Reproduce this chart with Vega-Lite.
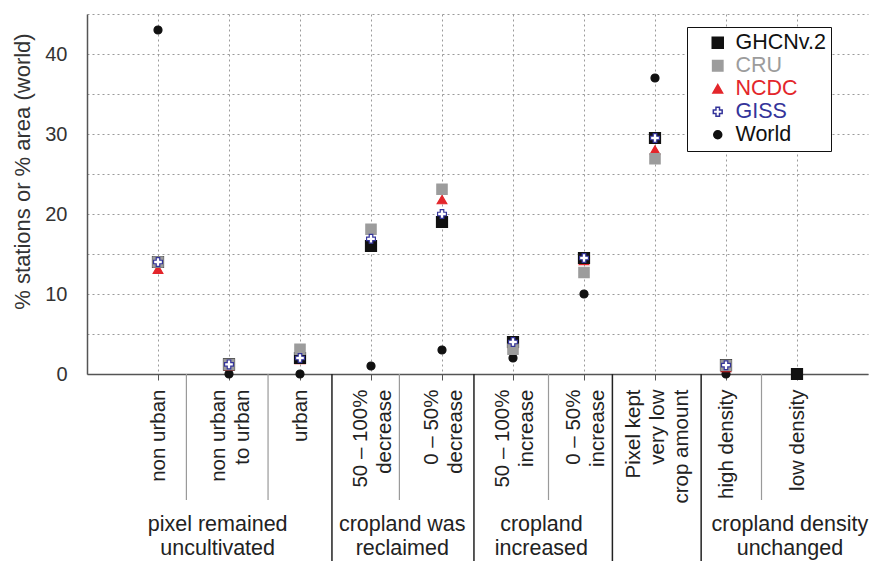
{
  "$schema": "https://vega.github.io/schema/vega-lite/v6.json",
  "padding": {"left": 11, "top": 13, "right": 12, "bottom": 0},
  "bounds": "flush",
  "spacing": 0,
  "config": {
    "view": {"stroke": null},
    "font": "Liberation Sans",
    "axis": {"labelFont": "Liberation Sans", "titleFont": "Liberation Sans"},
    "legend": {"labelFont": "Liberation Sans"}
  },
  "datasets": {
    "points": [
      {"category": "non urban", "series": "World", "percent": 43},
      {"category": "non urban|to urban", "series": "World", "percent": 0},
      {"category": "urban", "series": "World", "percent": 0},
      {"category": "50 – 100%|decrease", "series": "World", "percent": 1},
      {"category": "0 – 50%|decrease", "series": "World", "percent": 3},
      {"category": "50 – 100%|increase", "series": "World", "percent": 2},
      {"category": "0 – 50%|increase", "series": "World", "percent": 10},
      {"category": "Pixel kept|very low|crop amount", "series": "World", "percent": 37},
      {"category": "high density", "series": "World", "percent": 0},
      {"category": "low density", "series": "World", "percent": 0},

      {"category": "non urban", "series": "NCDC", "percent": 13.1},
      {"category": "non urban|to urban", "series": "NCDC", "percent": 1.0},
      {"category": "urban", "series": "NCDC", "percent": 1.8},
      {"category": "50 – 100%|decrease", "series": "NCDC", "percent": 16.6},
      {"category": "0 – 50%|decrease", "series": "NCDC", "percent": 21.8},
      {"category": "50 – 100%|increase", "series": "NCDC", "percent": 3.7},
      {"category": "0 – 50%|increase", "series": "NCDC", "percent": 14.2},
      {"category": "Pixel kept|very low|crop amount", "series": "NCDC", "percent": 28},
      {"category": "high density", "series": "NCDC", "percent": 0.8},
      {"category": "low density", "series": "NCDC", "percent": 0},

      {"category": "non urban", "series": "GHCNv.2", "percent": 14},
      {"category": "non urban|to urban", "series": "GHCNv.2", "percent": 1.2},
      {"category": "urban", "series": "GHCNv.2", "percent": 2},
      {"category": "50 – 100%|decrease", "series": "GHCNv.2", "percent": 16},
      {"category": "0 – 50%|decrease", "series": "GHCNv.2", "percent": 19},
      {"category": "50 – 100%|increase", "series": "GHCNv.2", "percent": 4},
      {"category": "0 – 50%|increase", "series": "GHCNv.2", "percent": 14.5},
      {"category": "Pixel kept|very low|crop amount", "series": "GHCNv.2", "percent": 29.5},
      {"category": "high density", "series": "GHCNv.2", "percent": 1.1},
      {"category": "low density", "series": "GHCNv.2", "percent": 0},

      {"category": "non urban", "series": "CRU", "percent": 14},
      {"category": "non urban|to urban", "series": "CRU", "percent": 1.2},
      {"category": "urban", "series": "CRU", "percent": 3.1},
      {"category": "50 – 100%|decrease", "series": "CRU", "percent": 18.1},
      {"category": "0 – 50%|decrease", "series": "CRU", "percent": 23.1},
      {"category": "50 – 100%|increase", "series": "CRU", "percent": 3.1},
      {"category": "0 – 50%|increase", "series": "CRU", "percent": 12.7},
      {"category": "Pixel kept|very low|crop amount", "series": "CRU", "percent": 26.9},
      {"category": "high density", "series": "CRU", "percent": 1.1},

      {"category": "non urban", "series": "GISS", "percent": 14},
      {"category": "non urban|to urban", "series": "GISS", "percent": 1.2},
      {"category": "urban", "series": "GISS", "percent": 2},
      {"category": "50 – 100%|decrease", "series": "GISS", "percent": 16.9},
      {"category": "0 – 50%|decrease", "series": "GISS", "percent": 20},
      {"category": "50 – 100%|increase", "series": "GISS", "percent": 4},
      {"category": "0 – 50%|increase", "series": "GISS", "percent": 14.5},
      {"category": "Pixel kept|very low|crop amount", "series": "GISS", "percent": 29.5},
      {"category": "high density", "series": "GISS", "percent": 1.1}
    ],
    "separators": [
      {"position": 1.4, "kind": "minor"},
      {"position": 2.55, "kind": "minor"},
      {"position": 3.45, "kind": "major"},
      {"position": 4.4, "kind": "minor"},
      {"position": 5.45, "kind": "major"},
      {"position": 6.5, "kind": "minor"},
      {"position": 7.4, "kind": "major"},
      {"position": 8.65, "kind": "major"},
      {"position": 9.5, "kind": "minor"}
    ],
    "groups": [
      {"position": 1.84, "label": ["pixel remained", "uncultivated"]},
      {"position": 4.44, "label": ["cropland was", "reclaimed"]},
      {"position": 6.4, "label": ["cropland", "increased"]},
      {"position": 9.9, "label": ["cropland density", "unchanged"]}
    ]
  },
  "vconcat": [
    {
      "width": 781,
      "height": 360,
      "data": {"name": "points"},
      "mark": {"type": "point", "opacity": 1, "strokeWidth": 1.2},
      "encoding": {
        "x": {
          "field": "category",
          "type": "nominal",
          "sort": ["non urban", "non urban|to urban", "urban", "50 – 100%|decrease", "0 – 50%|decrease", "50 – 100%|increase", "0 – 50%|increase", "Pixel kept|very low|crop amount", "high density", "low density"],
          "scale": {"type": "point", "padding": 1},
          "axis": {
            "title": null,
            "labelExpr": "split(datum.label, '|')",
            "labelAngle": 270,
            "labelAlign": "right",
            "labelBaseline": "middle",
            "labelFontSize": 20.5,
            "labelLineHeight": 24,
            "labelPadding": 9,
            "labelOffset": {
              "condition": [
                {"test": "length(split(datum.label, '|')) == 3", "value": -22},
                {"test": "length(split(datum.label, '|')) == 2", "value": -11}
              ],
              "value": 0
            },
            "labelColor": "#222222",
            "labelOverlap": false,
            "labelLimit": 300,
            "tickSize": 6,
            "tickColor": "#555555",
            "domainColor": "#555555",
            "domainWidth": 1.5,
            "grid": true,
            "gridColor": "#9a9a9a",
            "gridDash": [2, 3]
          }
        },
        "y": {
          "field": "percent",
          "type": "quantitative",
          "scale": {"domain": [0, 45], "nice": false},
          "axis": {
            "title": "% stations or % area (world)",
            "titleFontSize": 22,
            "titleFontWeight": "normal",
            "titleColor": "#333333",
            "titlePadding": 10,
            "titleY": 157,
            "values": [0, 5, 10, 15, 20, 25, 30, 35, 40, 45],
            "labelExpr": "datum.value % 10 === 0 ? datum.label : ''",
            "labelFontSize": 20,
            "labelColor": "#333333",
            "labelPadding": 20,
            "tickSize": 0,
            "tickColor": "#555555",
            "tickWidth": 1.2,
            "domainColor": "#555555",
            "domainWidth": 1.5,
            "grid": true,
            "gridColor": "#9a9a9a",
            "gridDash": [2, 3],
            "encode": {"ticks": {"update": {"x2": {"value": 8}}}}
          }
        },
        "shape": {
          "field": "series",
          "type": "nominal",
          "scale": {"domain": ["GHCNv.2", "CRU", "NCDC", "GISS", "World"], "range": ["square", "square", "triangle-up", "cross", "circle"]}
        },
        "fill": {
          "field": "series",
          "type": "nominal",
          "scale": {"domain": ["GHCNv.2", "CRU", "NCDC", "GISS", "World"], "range": ["#111111", "#9c9c9c", "#e3262b", "#ffffff", "#111111"]},
          "legend": {
            "title": null,
            "orient": "none",
            "legendX": 600,
            "legendY": 13,
            "fillColor": "#ffffff",
            "strokeColor": "#111111",
            "padding": 5,
            "rowPadding": 0,
            "symbolOffset": 15,
            "labelOffset": 7,
            "labelFontSize": 21.5,
            "labelColor": {"expr": "scale('stroke', datum.value)"},
            "encode": {
              "legend": {"update": {"strokeWidth": {"value": 2}}}
            }
          }
        },
        "stroke": {
          "field": "series",
          "type": "nominal",
          "scale": {"domain": ["GHCNv.2", "CRU", "NCDC", "GISS", "World"], "range": ["#111111", "#9c9c9c", "#e3262b", "#34349a", "#111111"]}
        },
        "size": {
          "field": "series",
          "type": "nominal",
          "scale": {"domain": ["GHCNv.2", "CRU", "NCDC", "GISS", "World"], "range": [121, 64, 110, 72, 132]}
        }
      }
    },
    {
      "width": 781,
      "height": 126,
      "data": {"name": "separators"},
      "layer": [
        {
          "transform": [{"filter": "datum.kind === 'minor'"}],
          "mark": {"type": "rule", "color": "#9a9a9a", "strokeWidth": 1.2},
          "encoding": {
            "x": {"field": "position", "type": "quantitative", "scale": {"domain": [0, 11], "nice": false, "zero": false}, "axis": null}
          }
        },
        {
          "transform": [{"filter": "datum.kind === 'major'"}],
          "mark": {"type": "rule", "color": "#222222", "strokeWidth": 1.5},
          "encoding": {
            "x": {"field": "position", "type": "quantitative", "scale": {"domain": [0, 11], "nice": false, "zero": false}, "axis": null}
          }
        }
      ]
    },
    {
      "width": 781,
      "height": 62,
      "layer": [
        {
          "data": {"name": "separators"},
          "transform": [{"filter": "datum.kind === 'major'"}],
          "mark": {"type": "rule", "color": "#222222", "strokeWidth": 1.5},
          "encoding": {
            "x": {"field": "position", "type": "quantitative", "scale": {"domain": [0, 11], "nice": false, "zero": false}, "axis": null}
          }
        },
        {
          "data": {"name": "groups"},
          "mark": {"type": "text", "fontSize": 21.5, "lineHeight": 24, "color": "#222222", "dy": -6},
          "encoding": {
            "x": {"field": "position", "type": "quantitative", "scale": {"domain": [0, 11], "nice": false, "zero": false}, "axis": null},
            "text": {"field": "label"}
          }
        }
      ]
    }
  ]
}
